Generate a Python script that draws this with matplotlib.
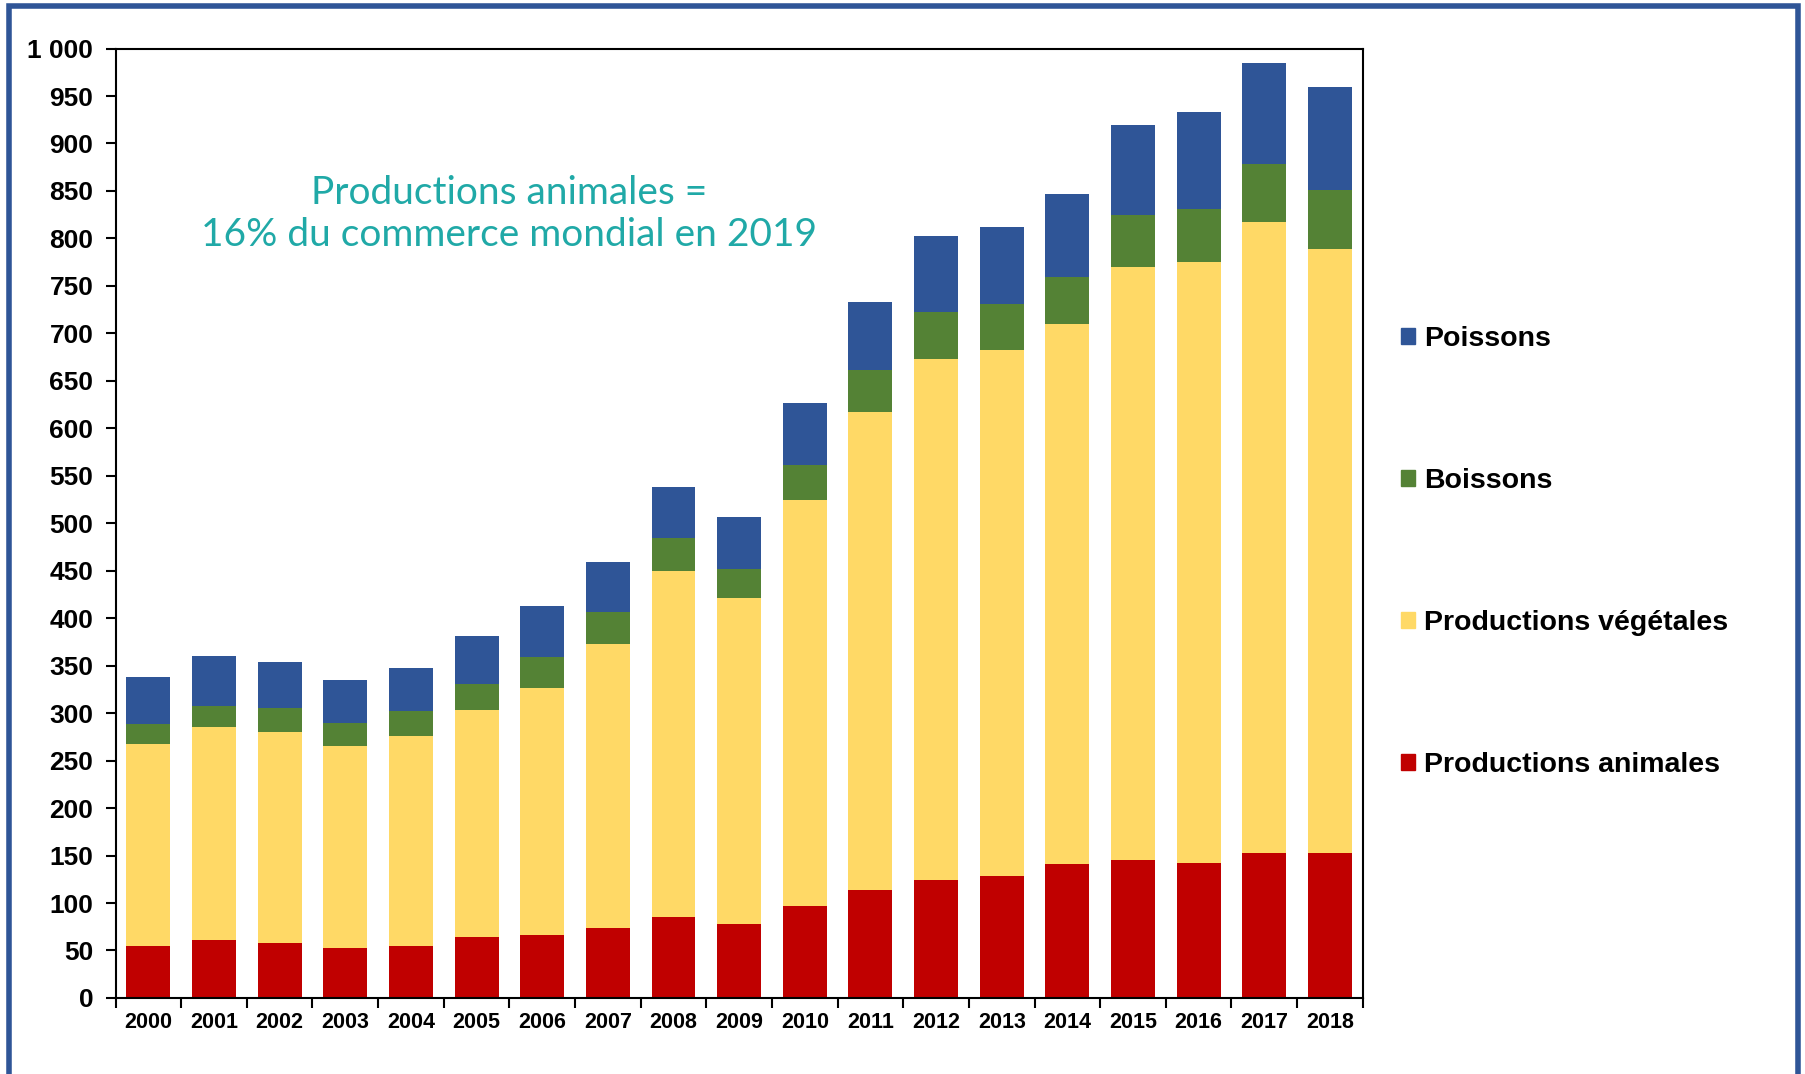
import matplotlib
matplotlib.use("Agg")
import matplotlib.pyplot as plt
from matplotlib.patches import Rectangle, Patch
from matplotlib.ticker import FuncFormatter
import numpy as np

years = [str(y) for y in range(2000, 2019)]
animales = [55, 61, 58, 53, 55, 64, 66, 74, 85, 78, 97, 114, 124, 128, 141, 145, 142, 153, 153]
vegetales = [212, 224, 222, 212, 221, 239, 261, 299, 365, 343, 427, 503, 549, 554, 569, 625, 633, 664, 636]
boissons = [22, 23, 25, 25, 26, 28, 32, 34, 34, 31, 37, 44, 50, 49, 49, 55, 56, 61, 62]
poissons = [49, 52, 49, 45, 46, 50, 54, 52, 54, 55, 66, 72, 80, 81, 88, 94, 102, 107, 108]
yticks = list(range(0, 1001, 50))

c_anim = "#C00000"
c_veg = "#FFD966"
c_boi = "#548235"
c_poi = "#2F5597"

plt.rcParams['font.family'] = ['Liberation Sans', 'DejaVu Sans']

fig = plt.figure(figsize=(18.05, 10.74), dpi=100)
ax = fig.add_axes([0.064, 0.0708, 0.691, 0.884])

x = np.arange(len(years))
w = 0.67
a = np.array(animales)
v = np.array(vegetales)
b = np.array(boissons)
p = np.array(poissons)
ax.bar(x, a, w, color=c_anim)
ax.bar(x, v, w, bottom=a, color=c_veg)
ax.bar(x, b, w, bottom=a + v, color=c_boi)
ax.bar(x, p, w, bottom=a + v + b, color=c_poi)

ax.set_xlim(-0.5, len(years) - 0.5)
ax.set_ylim(0, 1000)
ax.set_yticks(yticks)
ax.yaxis.set_major_formatter(FuncFormatter(lambda val, pos: f"{int(val):,}".replace(",", " ")))
for lab in ax.get_yticklabels():
    lab.set_fontweight('bold')
ax.tick_params(axis='y', direction='out', length=7, width=1.5, labelsize=19, pad=9)

ax.set_xticks(np.arange(-0.5, len(years), 1.0))
ax.set_xticklabels([])
ax.set_xticks(x, minor=True)
ax.set_xticklabels(years, minor=True, fontsize=15.5, fontweight='bold')
ax.tick_params(axis='x', which='major', direction='out', length=7, width=1.5)
ax.tick_params(axis='x', which='minor', length=0, pad=10)

for s in ax.spines.values():
    s.set_linewidth(1.5)
    s.set_color('black')

fig.text(0.282, 0.8007, "Productions animales =\n16% du commerce mondial en 2019",
         ha='center', va='center', color='#20A9A7', fontsize=28,
         family=['Lato', 'DejaVu Sans'], fontweight='normal', linespacing=1.22)

handles = [Patch(color=c_poi, label='Poissons'),
           Patch(color=c_boi, label='Boissons'),
           Patch(color=c_veg, label='Productions végétales'),
           Patch(color=c_anim, label='Productions animales')]
leg = fig.legend(handles=handles, loc='upper left', bbox_to_anchor=(0.762, 0.7205),
                 frameon=False, prop={'weight': 'bold', 'size': 20.5},
                 labelspacing=4.08, handlelength=0.48, handleheight=0.48, handletextpad=0.33)

fig.patches.append(Rectangle((0.005, -0.1), 0.991, 1.094, transform=fig.transFigure,
                             fill=False, edgecolor='#2F5597', linewidth=4, zorder=10))

fig.savefig("out.png", dpi=100)
